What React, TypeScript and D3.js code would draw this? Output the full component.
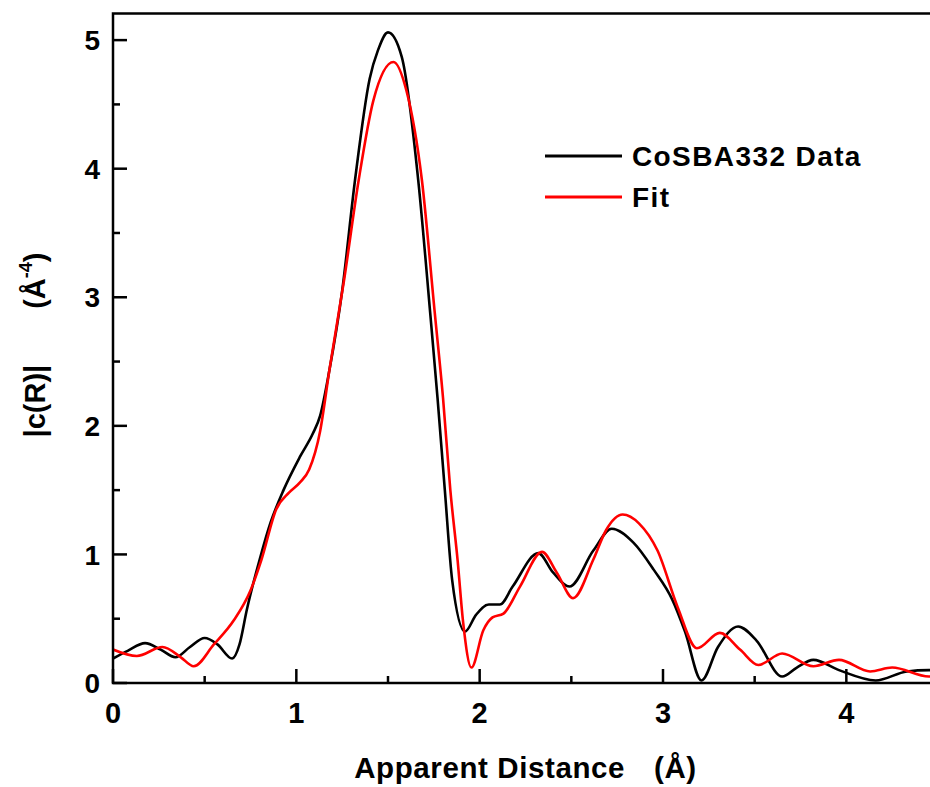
import React from "react";
import * as d3 from "d3";

const dataX = [0, 0.08, 0.175, 0.26, 0.34, 0.42, 0.5, 0.57, 0.65, 0.69, 0.73, 0.8, 0.86, 0.93, 1.02, 1.09, 1.13, 1.18, 1.25, 1.32, 1.4, 1.445, 1.5, 1.575, 1.665, 1.73, 1.77, 1.81, 1.85, 1.92, 1.98, 2.05, 2.11, 2.18, 2.32, 2.4, 2.49, 2.62, 2.72, 2.84, 2.95, 3.05, 3.12, 3.21, 3.3, 3.41, 3.51, 3.65, 3.73, 3.82, 3.96, 4.16, 4.33, 4.45, 4.5];
const dataY = [0.19, 0.25, 0.31, 0.26, 0.2, 0.28, 0.35, 0.3, 0.19, 0.3, 0.57, 0.96, 1.25, 1.5, 1.76, 1.94, 2.08, 2.43, 3.05, 3.91, 4.7, 4.92, 5.06, 4.87, 3.91, 2.88, 2.22, 1.5, 0.8, 0.4, 0.53, 0.61, 0.61, 0.75, 1.01, 0.86, 0.75, 1.03, 1.2, 1.09, 0.88, 0.65, 0.4, 0.02, 0.28, 0.44, 0.33, 0.05, 0.12, 0.18, 0.1, 0.02, 0.09, 0.1, 0.1];

const fitX = [0, 0.13, 0.27, 0.37, 0.44, 0.55, 0.66, 0.75, 0.81, 0.89, 0.96, 1.02, 1.07, 1.13, 1.18, 1.26, 1.34, 1.42, 1.53, 1.6, 1.685, 1.755, 1.8, 1.84, 1.88, 1.91, 1.955, 2.02, 2.07, 2.13, 2.22, 2.34, 2.42, 2.51, 2.62, 2.69, 2.78, 2.87, 2.97, 3.08, 3.185, 3.31, 3.42, 3.52, 3.65, 3.82, 3.96, 4.13, 4.25, 4.45, 4.5];
const fitY = [0.26, 0.21, 0.28, 0.2, 0.13, 0.3, 0.49, 0.72, 0.96, 1.35, 1.48, 1.56, 1.66, 1.96, 2.43, 3.13, 3.91, 4.53, 4.83, 4.61, 3.91, 2.88, 2.22, 1.5, 0.95, 0.47, 0.12, 0.41, 0.51, 0.54, 0.75, 1.02, 0.86, 0.66, 0.96, 1.19, 1.31, 1.24, 1.03, 0.59, 0.27, 0.39, 0.26, 0.14, 0.23, 0.13, 0.18, 0.09, 0.12, 0.05, 0.05];

const xMajor = [0, 1, 2, 3, 4];
const xMinor = [0.5, 1.5, 2.5, 3.5];
const yMajor = [0, 1, 2, 3, 4, 5];
const yMinor = [0.5, 1.5, 2.5, 3.5, 4.5];

const seriesNames = ["CoSBA332 Data", "Fit"];
const seriesColors = ["#000000", "#ff0000"];

const FONT = "'Liberation Sans', Arial, sans-serif";

export default function App() {
  const left = 113, right = 938, top = 13.5, bottom = 683;
  const x = d3.scaleLinear().domain([0, 4.5]).range([left, right]);
  const y = d3.scaleLinear().domain([0, 5.207]).range([bottom, top]);
  const line = d3
    .line<[number, number]>()
    .x((d) => x(d[0]))
    .y((d) => y(d[1]))
    .curve(d3.curveMonotoneX);
  const dataPts: [number, number][] = dataX.map((v, i) => [v, dataY[i]]);
  const fitPts: [number, number][] = fitX.map((v, i) => [v, fitY[i]]);

  return (
    <div style={{ position: "fixed", left: 0, top: 0, width: 930, height: 787, overflow: "hidden", background: "#fff" }}>
      <svg width={930} height={787} style={{ display: "block" }}>
        <defs>
          <clipPath id="plotclip">
            <rect x={left} y={top} width={right - left} height={bottom - top} />
          </clipPath>
        </defs>
        <g clipPath="url(#plotclip)" fill="none" strokeLinejoin="round">
          <path d={line(dataPts) || ""} stroke={seriesColors[0]} strokeWidth={2.6} />
          <path d={line(fitPts) || ""} stroke={seriesColors[1]} strokeWidth={2.6} />
        </g>
        <rect x={left} y={top} width={right - left} height={bottom - top} fill="none" stroke="#000" strokeWidth={2.5} />
        {yMajor.map((v) => (
          <g key={"ym" + v}>
            <line x1={left} x2={left + 14} y1={y(v)} y2={y(v)} stroke="#000" strokeWidth={2.5} />
            <text x={100} y={y(v)} dy="0.36em" textAnchor="end" fontFamily={FONT} fontWeight="bold" fontSize={28}>{v}</text>
          </g>
        ))}
        {yMinor.map((v) => (
          <line key={"yn" + v} x1={left} x2={left + 7} y1={y(v)} y2={y(v)} stroke="#000" strokeWidth={2.5} />
        ))}
        {xMajor.map((v) => (
          <g key={"xm" + v}>
            <line x1={x(v)} x2={x(v)} y1={bottom} y2={bottom - 14} stroke="#000" strokeWidth={2.5} />
            <text x={x(v)} y={723} textAnchor="middle" fontFamily={FONT} fontWeight="bold" fontSize={29}>{v}</text>
          </g>
        ))}
        {xMinor.map((v) => (
          <line key={"xn" + v} x1={x(v)} x2={x(v)} y1={bottom} y2={bottom - 7} stroke="#000" strokeWidth={2.5} />
        ))}
        <text x={(left + right) / 2} y={778} textAnchor="middle" fontFamily={FONT} fontWeight="bold" fontSize={29.5} letterSpacing={0.6}>
          <tspan>Apparent Distance</tspan>
          <tspan dx={29}>(Å)</tspan>
        </text>
        <text transform={`translate(45,345) rotate(-90)`} textAnchor="middle" fontFamily={FONT} fontWeight="bold" fontSize={29}>
          <tspan>|c(R)|</tspan>
          <tspan dx={56}>(Å</tspan>
          <tspan fontSize={18} dy={-13}>-4</tspan>
          <tspan dy={13}>)</tspan>
        </text>
        {seriesNames.map((n, i) => (
          <g key={n}>
            <line x1={545} x2={622} y1={156 + i * 41} y2={156 + i * 41} stroke={seriesColors[i]} strokeWidth={3} />
            <text x={632} y={166 + i * 41} fontFamily={FONT} fontWeight="bold" fontSize={28} letterSpacing={1.4}>{n}</text>
          </g>
        ))}
      </svg>
    </div>
  );
}
